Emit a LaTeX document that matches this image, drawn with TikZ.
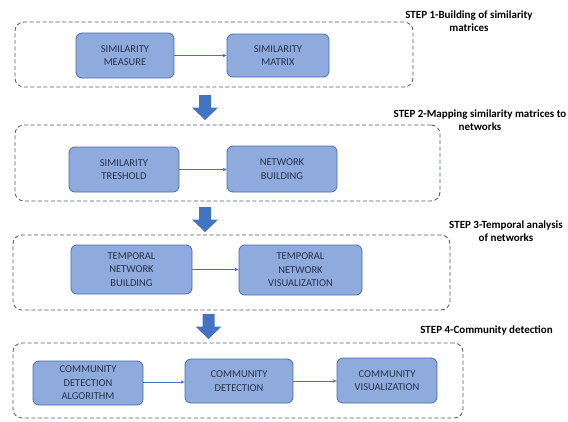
\documentclass[tikz,border=0pt]{standalone}
\usepackage{fontspec}
\setmainfont{Carlito}
\usetikzlibrary{arrows.meta}
\definecolor{boxfill}{HTML}{8FAADC}
\definecolor{boxborder}{HTML}{4A6DAE}
\definecolor{boxtext}{HTML}{26324A}
\definecolor{dashcol}{HTML}{4E5C78}
\definecolor{linkcol}{HTML}{4472C4}
\definecolor{arrowcol}{HTML}{4472C4}
\tikzset{
  procbox/.style={draw=boxborder, fill=boxfill, rounded corners=6pt, line width=0.8pt,
    align=center, inner sep=0pt, text=boxtext, font=\fontsize{10.5}{13.5}\selectfont},
  stagebox/.style={draw=dashcol, dash pattern=on 4pt off 2.5pt, rounded corners=9pt,
    line width=0.8pt, inner sep=0pt},
  steplabel/.style={font=\bfseries\fontsize{11}{13}\selectfont, align=center, inner sep=0pt},
  link/.style={draw=linkcol, line width=0.7pt, -{Stealth[length=4pt,width=3.5pt]}},
  downarrow/.pic={\fill[arrowcol] (-6,0) -- (6,0) -- (6,12.5) -- (13,12.5) -- (0,25)
    -- (-13,12.5) -- (-6,12.5) -- cycle;}
}
\begin{document}
\begin{tikzpicture}[x=1pt,y=-1pt]
\useasboundingbox[fill=white] (0,0) rectangle (568,421);

% stage frames
\node[stagebox, minimum width=398pt, minimum height=65pt] (s1) at (214,54.5) {};
\node[stagebox, minimum width=425pt, minimum height=76pt] (s2) at (227.5,163) {};
\node[stagebox, minimum width=437pt, minimum height=75pt] (s3) at (231.5,272.5) {};
\node[stagebox, minimum width=450pt, minimum height=75pt] (s4) at (238,380.5) {};

% step labels
\node[steplabel] (l1) at (469,21.5) {STEP 1-Building of similarity\\matrices};
\node[steplabel] (l2) at (480,120.5) {STEP 2-Mapping similarity matrices to\\networks};
\node[steplabel] (l3) at (506,231) {STEP 3-Temporal analysis\\of networks};
\node[steplabel] (l4) at (486.5,330) {STEP 4-Community detection};

% step 1
\node[procbox, minimum width=98pt, minimum height=45pt] (sm) at (125,55.5) {SIMILARITY\\MEASURE};
\node[procbox, minimum width=102pt, minimum height=43pt] (smx) at (278,55.5) {SIMILARITY\\MATRIX};
\draw[link] (sm) -- (smx);

% step 2
\node[procbox, minimum width=110pt, minimum height=45pt] (st) at (124,169.5) {SIMILARITY\\TRESHOLD};
\node[procbox, minimum width=110pt, minimum height=46pt] (nb) at (282,169) {NETWORK\\BUILDING};
\draw[link] (st) -- (st -| nb.west);

% step 3
\node[procbox, minimum width=121pt, minimum height=49pt] (tnb) at (131.5,269.5) {TEMPORAL\\NETWORK\\BUILDING};
\node[procbox, minimum width=123pt, minimum height=50pt] (tnv) at (300.5,270) {TEMPORAL\\NETWORK\\VISUALIZATION};
\draw[link] (tnb) -- (tnb -| tnv.west);

% step 4
\node[procbox, minimum width=110pt, minimum height=44pt] (cda) at (88,383) {COMMUNITY\\DETECTION\\ALGORITHM};
\node[procbox, minimum width=108pt, minimum height=44pt] (cd) at (239,381) {COMMUNITY\\DETECTION};
\node[procbox, minimum width=100pt, minimum height=45pt] (cv) at (387,380.5) {COMMUNITY\\VISUALIZATION};
\draw[link] (cda.east |- 0,382) -- (cd.west |- 0,382);
\draw[link] (cd.east |- 0,381) -- (cv.west |- 0,381);

% block arrows between stages
\pic at (205,95) {downarrow};
\pic at (205,207) {downarrow};
\pic at (208.5,314) {downarrow};
\end{tikzpicture}
\end{document}
